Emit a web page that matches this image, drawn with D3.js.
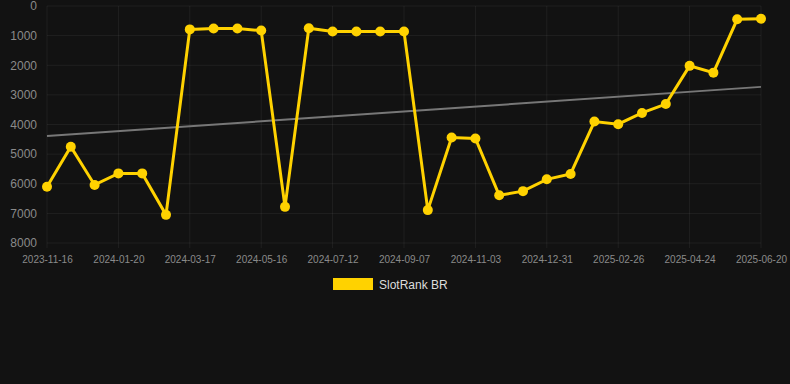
<!DOCTYPE html>
<html>
<head>
<meta charset="utf-8">
<script src="https://cdn.jsdelivr.net/npm/d3@7"></script>
<style>
  html, body { margin: 0; padding: 0; background: #121212; }
  #chart { width: 790px; height: 384px; }
</style>
</head>
<body>
<div id="chart"></div>
<script>
// SlotRank BR rank over time (lower rank number = better, axis inverted)
const DATES = [
    '2023-11-16', '2023-12-08', '2023-12-30', '2024-01-20', '2024-02-08', '2024-02-27',
    '2024-03-17', '2024-04-06', '2024-04-26', '2024-05-16', '2024-06-04', '2024-06-23',
    '2024-07-12', '2024-07-31', '2024-08-19', '2024-09-07', '2024-09-26', '2024-10-15',
    '2024-11-03', '2024-11-22', '2024-12-12', '2024-12-31', '2025-01-19', '2025-02-07',
    '2025-02-26', '2025-03-17', '2025-04-05', '2025-04-24', '2025-05-13', '2025-06-01',
    '2025-06-20'
];
const RANKS = [
    6100, 4750, 6040, 5650, 5650, 7050,
    790, 760, 760, 830, 6780, 750,
    860, 860, 860, 860, 6890, 4440,
    4470, 6390, 6250, 5850, 5670, 3900,
    3990, 3610, 3310, 2020, 2250, 450,
    430
];
const TREND = [4390, 2730];          // trend line value at first and last date
const Y_TICKS = [0, 1000, 2000, 3000, 4000, 5000, 6000, 7000, 8000];
const X_LABEL_EVERY = 3;
const SERIES_NAME = 'SlotRank BR';

(function () {
    const width = 790, height = 384;
    const margin = { top: 6, right: 29, bottom: 141, left: 47 };
    const innerW = width - margin.left - margin.right;
    const innerH = height - margin.top - margin.bottom;

    const GOLD = '#ffd200';
    const GRID = 'rgba(255,255,255,0.06)';
    const FONT = '"Liberation Sans", Arial, sans-serif';

    const svg = d3.select('#chart').append('svg')
        .attr('width', width).attr('height', height);

    const g = svg.append('g').attr('transform', `translate(${margin.left},${margin.top})`);

    const xScale = d3.scalePoint().domain(DATES).range([0, innerW]);
    const yScale = d3.scaleLinear().domain([0, 8000]).range([0, innerH]);

    const xTicks = DATES.filter((_, i) => i % X_LABEL_EVERY === 0);

    // Grid
    g.selectAll('.hgrid').data(Y_TICKS).enter().append('line')
        .attr('x1', 0).attr('x2', innerW)
        .attr('y1', d => yScale(d)).attr('y2', d => yScale(d))
        .attr('stroke', GRID).attr('stroke-width', 1);

    g.selectAll('.vgrid').data(xTicks).enter().append('line')
        .attr('x1', d => xScale(d)).attr('x2', d => xScale(d))
        .attr('y1', 0).attr('y2', innerH + 5)
        .attr('stroke', GRID).attr('stroke-width', 1);

    // X axis
    g.append('g').attr('transform', `translate(0,${innerH})`)
        .call(d3.axisBottom(xScale).tickValues(xTicks).tickSize(0).tickPadding(13))
        .call(a => a.select('.domain').remove())
        .selectAll('text').attr('fill', '#8a8a8a').attr('font-size', '10px').attr('font-family', FONT);

    // Y axis
    g.append('g')
        .call(d3.axisLeft(yScale).tickValues(Y_TICKS).tickFormat(d3.format('d')).tickSize(0).tickPadding(10))
        .call(a => a.select('.domain').remove())
        .selectAll('text').attr('fill', '#8a8a8a').attr('font-size', '12px').attr('font-family', FONT);

    // Trend line
    const ends = [DATES[0], DATES[DATES.length - 1]];
    g.append('line')
        .attr('x1', xScale(ends[0])).attr('y1', yScale(TREND[0]))
        .attr('x2', xScale(ends[1])).attr('y2', yScale(TREND[1]))
        .attr('stroke', '#777').attr('stroke-width', 2);

    // Series line
    const series = DATES.map((d, i) => ({ date: d, rank: RANKS[i] }));
    const lineGen = d3.line().x(d => xScale(d.date)).y(d => yScale(d.rank));

    g.append('path')
        .datum(series)
        .attr('fill', 'none')
        .attr('stroke', GOLD)
        .attr('stroke-width', 3)
        .attr('stroke-linejoin', 'miter')
        .attr('d', lineGen);

    g.selectAll('.pt').data(series).enter().append('circle')
        .attr('cx', d => xScale(d.date)).attr('cy', d => yScale(d.rank))
        .attr('r', 5).attr('fill', GOLD);

    // Legend
    const legend = svg.append('g').attr('transform', 'translate(333,278)');
    legend.append('rect').attr('x', 0).attr('y', 0).attr('width', 40).attr('height', 12)
        .attr('fill', GOLD);
    legend.append('text').attr('x', 46).attr('y', 11)
        .attr('font-size', '12px').attr('font-family', FONT)
        .attr('fill', '#dddddd').text(SERIES_NAME);
})();
</script>
</body>
</html>
